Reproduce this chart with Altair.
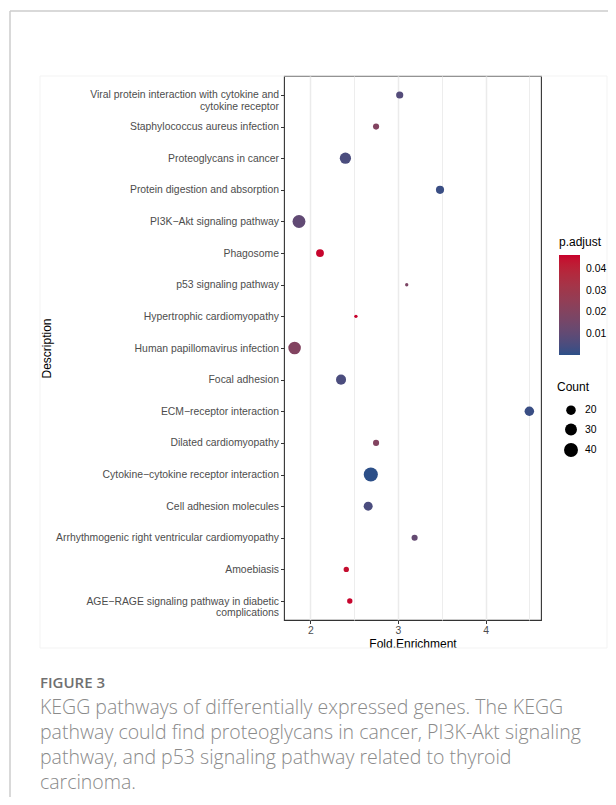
import altair as alt
import pandas as pd

descriptions = [
    "Viral protein interaction with cytokine and\ncytokine receptor",
    "Staphylococcus aureus infection",
    "Proteoglycans in cancer",
    "Protein digestion and absorption",
    "PI3K\u2212Akt signaling pathway",
    "Phagosome",
    "p53 signaling pathway",
    "Hypertrophic cardiomyopathy",
    "Human papillomavirus infection",
    "Focal adhesion",
    "ECM\u2212receptor interaction",
    "Dilated cardiomyopathy",
    "Cytokine\u2212cytokine receptor interaction",
    "Cell adhesion molecules",
    "Arrhythmogenic right ventricular cardiomyopathy",
    "Amoebiasis",
    "AGE\u2212RAGE signaling pathway in diabetic\ncomplications",
]
fold_enrichment = [3.02, 2.75, 2.40, 3.48, 1.87, 2.11, 3.10, 2.52, 1.82,
                   2.35, 4.50, 2.75, 2.69, 2.66, 3.19, 2.41, 2.45]
counts = [12, 9, 27, 15, 35, 14, 3, 3, 33, 22, 20, 9, 41, 18, 9, 7, 7]
p_adjust = [0.007, 0.020, 0.005, 0.002, 0.010, 0.046, 0.018, 0.0465, 0.020,
            0.005, 0.002, 0.020, 0.0001, 0.005, 0.011, 0.045, 0.046]

x_ticks = [2, 2.5, 3, 3.5, 4, 4.5]
color_ticks = [0.01, 0.02, 0.03, 0.04]
size_ticks = [20, 30, 40]

caption_label = "FIGURE 3"
caption_lines = [
    "KEGG pathways of differentially expressed genes. The KEGG",
    "pathway could find proteoglycans in cancer, PI3K-Akt signaling",
    "pathway, and p53 signaling pathway related to thyroid",
    "carcinoma.",
]

df = pd.DataFrame({
    "Description": descriptions,
    "FoldEnrichment": fold_enrichment,
    "Count": counts,
    "padj": p_adjust,
})

FONT = "Liberation Sans"
one = alt.Data(values=[{}])


def hrule(x, x2, y, color, w):
    return alt.Chart(one).mark_rule(color=color, strokeWidth=w).encode(
        x=alt.value(x), x2=alt.value(x2), y=alt.value(y))


def vrule(x, y, y2, color, w):
    return alt.Chart(one).mark_rule(color=color, strokeWidth=w).encode(
        x=alt.value(x), y=alt.value(y), y2=alt.value(y2))


def text(s, x, y, size, color, weight, font="Open Sans"):
    return alt.Chart(one).mark_text(
        align="left", baseline="middle", font=font, fontSize=size,
        color=color, fontWeight=weight).encode(
        x=alt.value(x), y=alt.value(y), text=alt.value(s))


decor = [
    # card border
    hrule(-274, 340, -65, "#cccccc", 1.5),
    vrule(-274, -65, 740, "#cccccc", 1.5),
    # faint figure frame
    hrule(-244, 323, 0, "#f3f3f3", 1),
    hrule(-244, 323, 572, "#f3f3f3", 1),
    vrule(-244, 0, 572, "#f3f3f3", 1),
    vrule(323, 0, 572, "#f3f3f3", 1),
    text(caption_label, -244, 607, 15, "#707070", 600),
]
for i, line in enumerate(caption_lines):
    decor.append(text(line, -244, 632 + 25 * i, 19.5, "#8a8a8a", 300))

is_major = "datum.value % 1 == 0"

points = alt.Chart(df).mark_circle(opacity=1, strokeWidth=0).encode(
    x=alt.X(
        "FoldEnrichment:Q", title="Fold.Enrichment",
        scale=alt.Scale(domain=[1.699, 4.633], nice=False, zero=False),
        axis=alt.Axis(
            values=x_ticks,
            labelExpr="datum.value % 1 == 0 ? format(datum.value, 'd') : ''",
            tickOpacity=alt.condition(is_major, alt.value(1), alt.value(0)),
            gridWidth=alt.condition(is_major, alt.value(1.5), alt.value(0.9)),
            gridColor="#EBEBEB", domain=False, tickSize=3.5, tickWidth=1,
            tickColor="#333333", labelColor="#4D4D4D", labelFontSize=10.4,
            labelFont=FONT, labelPadding=2, titleFont=FONT, titleFontSize=12,
            titleColor="black", titleFontWeight="normal", titlePadding=3,
        ),
    ),
    y=alt.Y(
        "Description:N", sort=descriptions, title="Description",
        scale=alt.Scale(type="point", padding=0.6),
        axis=alt.Axis(
            labelExpr="split(datum.label, '\\n')", labelLineHeight=11.5,
            labelLimit=400, gridColor="#EBEBEB", gridWidth=1.5, domain=False,
            tickSize=3.5, tickWidth=1, tickColor="#333333",
            labelColor="#4D4D4D", labelFontSize=10.4, labelFont=FONT,
            labelPadding=2, titleFont=FONT, titleFontSize=12,
            titleColor="black", titleFontWeight="normal",
            titleX=-238, titleY=272, titleAngle=270, titleBaseline="middle",
            titleAlign="center",
        ),
    ),
    color=alt.Color(
        "padj:Q", title="p.adjust",
        scale=alt.Scale(range=["#2C4F88", "#C8002C"], interpolate="lab"),
        legend=alt.Legend(
            orient="none", legendX=275, legendY=161, values=color_ticks,
            direction="vertical", gradientLength=100, gradientThickness=21,
            gradientStrokeWidth=0, padding=0, titleFont=FONT,
            titleFontSize=12, titleFontWeight="normal", titleColor="black",
            titlePadding=6, labelFont=FONT, labelFontSize=10.4,
            labelColor="black", labelOffset=6, labelOverlap=False,
        ),
    ),
    size=alt.Size(
        "Count:Q", title="Count",
        scale=alt.Scale(type="pow", exponent=1.1, domain=[0, 45],
                        range=[0, 221]),
        legend=alt.Legend(
            orient="none", legendX=273, legendY=306, values=size_ticks,
            symbolFillColor="black", symbolStrokeWidth=0,
            symbolType="circle", symbolOffset=7, symbolOpacity=1,
            padding=0, rowPadding=7.5, titleFont=FONT, titleFontSize=12,
            titleFontWeight="normal", titleColor="black", titlePadding=11,
            labelFont=FONT, labelFontSize=10.4, labelColor="black",
            labelOffset=7,
        ),
    ),
)

chart = alt.layer(*decor, points).properties(
    width=257, height=544,
    padding={"left": 276, "top": 68, "right": 67, "bottom": 177},
    autosize=alt.AutoSizeParams(type="none"),
    background="white",
).configure_view(stroke="#333333", strokeWidth=1.1)

chart.save("out.html", embed_options={"renderer": "svg", "actions": False})
